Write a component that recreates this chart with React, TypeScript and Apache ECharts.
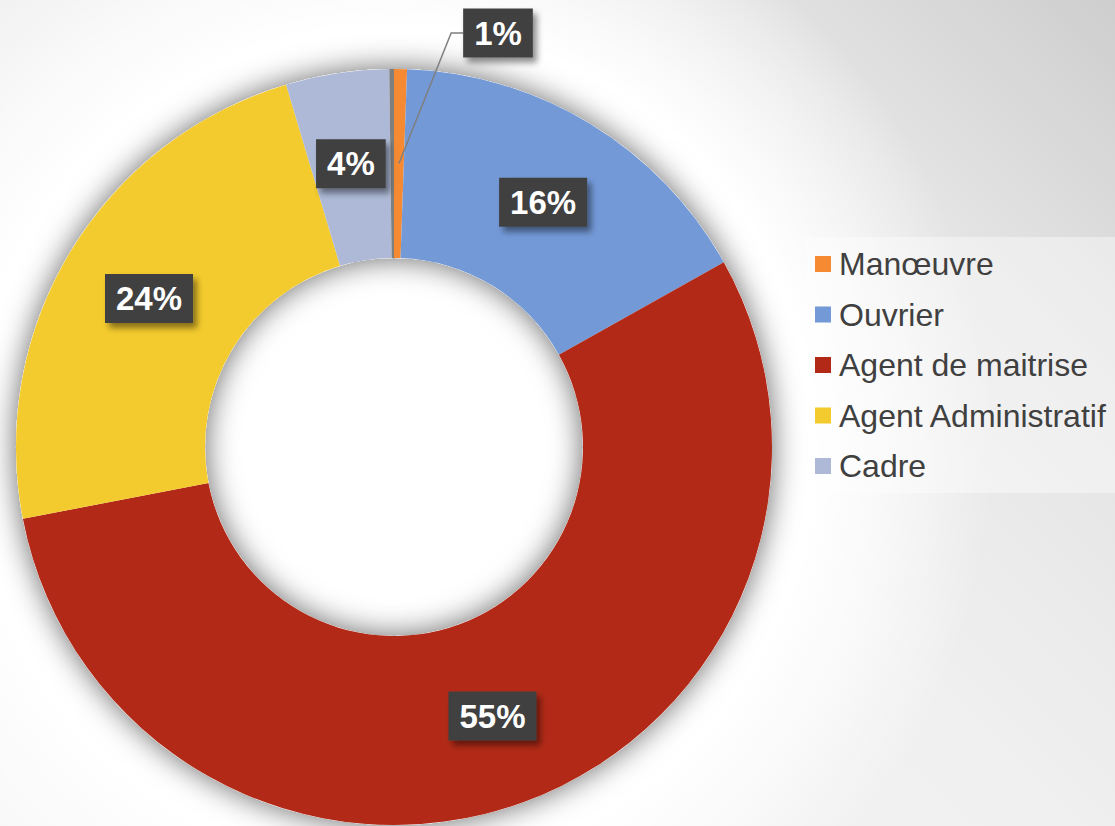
import React, { useEffect, useRef } from 'react';
import * as echarts from 'echarts';

const categories = ['Manœuvre', 'Ouvrier', 'Agent de maitrise', 'Agent Administratif', 'Cadre'];
const values = [0.55, 16.3, 55.0, 23.4, 4.4];
const labelTexts = ['1%', '16%', '55%', '24%', '4%'];
const colors = ['#F58A33', '#7399D7', '#B22A17', '#F4CB2E', '#ADB9D6'];
const sliverName = '';
const sliverValue = 0.2;
const sliverColor = '#7f7f7f';

const CX = 394;
const CY = 447;
const R_IN = 189;
const R_OUT = 378;
const FONT = '"Liberation Sans", Arial, Helvetica, sans-serif';

const labelBox = {
  color: '#ffffff',
  fontSize: 33,
  fontWeight: 'bold',
  fontFamily: FONT,
  lineHeight: 38,
  backgroundColor: '#414141',
  padding: [6, 11, 5, 11],
  shadowColor: 'rgba(0,0,0,0.45)',
  shadowBlur: 6,
  shadowOffsetX: 4,
  shadowOffsetY: 5,
};

export default function App() {
  const ref = useRef<HTMLDivElement>(null);

  useEffect(() => {
    if (!ref.current) return;
    const chart = echarts.init(ref.current, undefined, { renderer: 'svg' });
    const total = values.reduce((a, b) => a + b, 0) + sliverValue;

    const mainData: any[] = categories.map((name, i) => ({
      name,
      value: values[i],
      itemStyle: { color: colors[i] },
      ...(i === 0 ? { label: { show: false } } : {}),
    }));
    mainData.push({
      name: sliverName,
      value: sliverValue,
      itemStyle: { color: sliverColor },
      label: { show: false },
    });

    const overlayData: any[] = categories.map((name, i) => ({
      name,
      value: values[i],
      itemStyle: { color: 'rgba(0,0,0,0)' },
      label: { show: i === 0 },
      labelLine: { show: i === 0 },
    }));
    overlayData.push({
      name: sliverName,
      value: sliverValue,
      itemStyle: { color: 'rgba(0,0,0,0)' },
      label: { show: false },
      labelLine: { show: false },
    });

    chart.setOption({
      animation: false,
      backgroundColor: 'transparent',
      legend: {
        orient: 'vertical',
        left: 805,
        top: 237,
        data: categories,
        icon: 'rect',
        itemWidth: 16,
        itemHeight: 16,
        itemGap: 18.5,
        padding: [11, 14, 11, 10],
        backgroundColor: 'rgba(255,255,255,0.4)',
        selectedMode: false,
        textStyle: {
          fontSize: 32,
          lineHeight: 32,
          color: '#404040',
          fontFamily: FONT,
          padding: [0, 0, 0, 3],
        },
      },
      series: [
        {
          type: 'pie',
          name: 'shadow',
          silent: true,
          z: 0,
          center: [CX, CY],
          radius: [R_IN, R_OUT],
          label: { show: false },
          labelLine: { show: false },
          emphasis: { disabled: true },
          data: [
            {
              value: 1,
              name: 'shadow',
              itemStyle: { color: '#ffffff', shadowBlur: 30, shadowColor: 'rgba(0,0,0,0.6)' },
            },
          ],
        },
        {
          type: 'pie',
          name: 'main',
          z: 2,
          center: [CX, CY],
          radius: [R_IN, R_OUT],
          startAngle: 90,
          clockwise: true,
          avoidLabelOverlap: false,
          emphasis: { disabled: true },
          itemStyle: { borderWidth: 0 },
          label: {
            show: true,
            position: 'inside',
            formatter: (p: any) => labelTexts[p.dataIndex] ?? '',
            ...labelBox,
          },
          labelLine: { show: false },
          data: mainData,
        },
        {
          type: 'pie',
          name: 'overlay',
          silent: true,
          z: 3,
          center: [CX, CY],
          radius: [R_IN, R_OUT],
          startAngle: 90,
          clockwise: true,
          avoidLabelOverlap: false,
          emphasis: { disabled: true },
          itemStyle: { borderWidth: 0 },
          label: {
            show: true,
            position: 'outside',
            formatter: (p: any) => labelTexts[p.dataIndex] ?? '',
            ...labelBox,
          },
          labelLine: { show: true, length: 10, length2: 10, lineStyle: { color: '#7f7f7f', width: 1.5 } },
          labelLayout: (p: any) => {
            if (p.dataIndex !== 0) return {};
            const theta = (values[0] / total) * Math.PI;
            const rMid = (R_IN + R_OUT) / 2;
            const sx = CX + rMid * Math.sin(theta);
            const sy = CY - rMid * Math.cos(theta);
            const lx = 498;
            const ly = 33;
            const w = p.labelRect ? p.labelRect.width : 68;
            const left = lx - w / 2;
            return {
              x: lx,
              y: ly,
              align: 'center',
              verticalAlign: 'middle',
              labelLinePoints: [
                [sx, sy],
                [left - 12, ly],
                [left, ly],
              ],
            };
          },
          data: overlayData,
        },
      ],
    });

    return () => chart.dispose();
  }, []);

  return (
    <div
      style={{
        position: 'fixed',
        left: 0,
        top: 0,
        width: 1115,
        height: 826,
        background:
          'radial-gradient(circle at 394px 447px, rgba(255,255,255,1) 0px, rgba(255,255,255,1) 420px, rgba(255,255,255,0.6) 500px, rgba(255,255,255,0) 600px), linear-gradient(45deg, #f5f5f5 0%, #f0f0f0 55%, #e4e4e4 80%, #cecece 100%)',
      }}
    >
      <div ref={ref} style={{ width: 1115, height: 826 }} />
    </div>
  );
}
